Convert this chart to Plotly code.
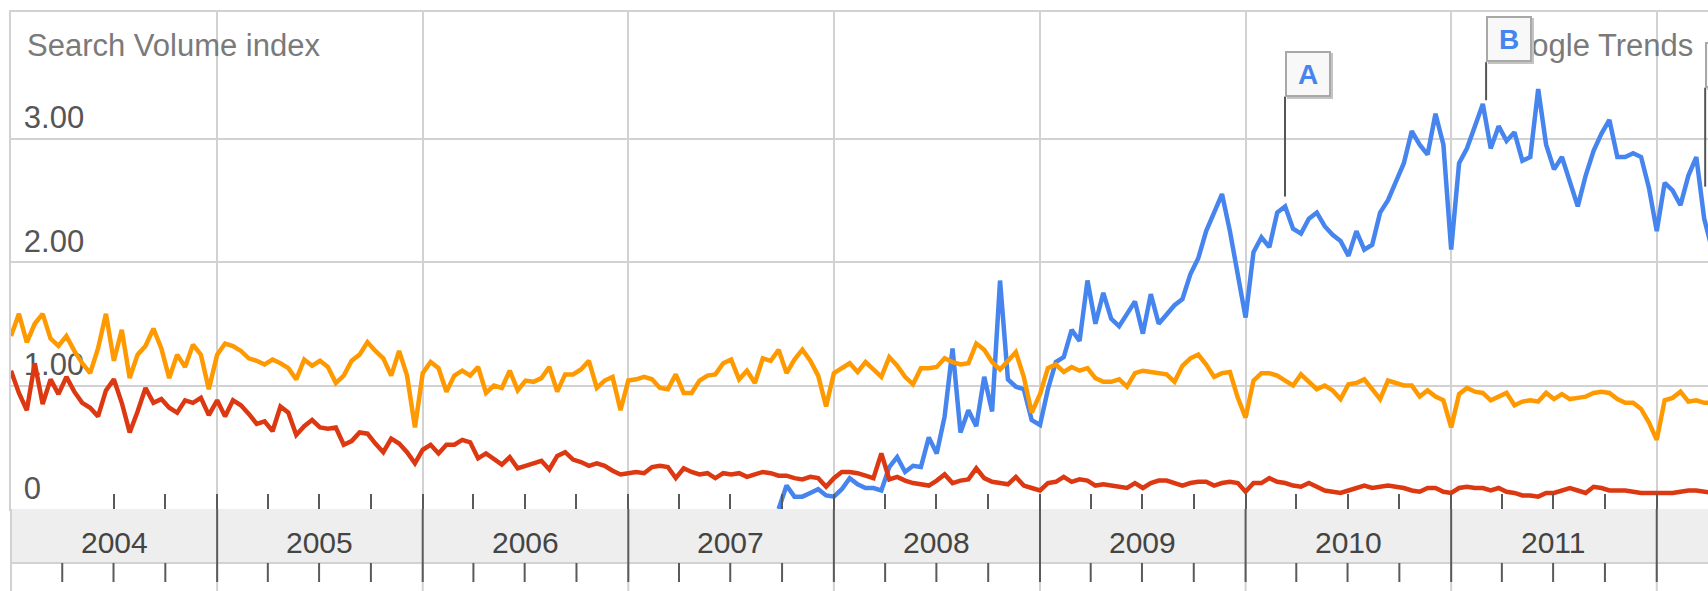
import pandas as pd
import plotly.graph_objects as go

# ------------------------------------------------------------------ data
year_labels = ["2004", "2005", "2006", "2007", "2008", "2009", "2010", "2011"]
samples_per_year = 26          # two-week sampling

# series values (search volume index)
orange_values = [
    1.40, 1.58, 1.35, 1.50, 1.58, 1.38, 1.32, 1.40, 1.28, 1.18, 1.10, 1.30, 1.58, 1.20, 1.45, 1.06, 1.25, 1.32, 1.46, 1.30, 1.06, 1.25, 1.15, 1.33, 1.25, 0.97,
    1.25, 1.34, 1.32, 1.28, 1.22, 1.20, 1.17, 1.21, 1.18, 1.14, 1.05, 1.21, 1.16, 1.20, 1.15, 1.02, 1.08, 1.20, 1.25, 1.35, 1.28, 1.22, 1.08, 1.28, 1.08, 0.66,
    1.10, 1.19, 1.14, 0.95, 1.08, 1.12, 1.08, 1.15, 0.94, 1.00, 0.98, 1.12, 0.96, 1.04, 1.03, 1.06, 1.15, 0.95, 1.09, 1.09, 1.13, 1.20, 0.98, 1.04, 1.07, 0.80,
    1.04, 1.05, 1.07, 1.05, 0.98, 0.97, 1.09, 0.94, 0.94, 1.04, 1.08, 1.09, 1.18, 1.21, 1.05, 1.12, 1.02, 1.22, 1.20, 1.29, 1.10, 1.21, 1.29, 1.20, 1.08, 0.83,
    1.10, 1.14, 1.18, 1.11, 1.19, 1.13, 1.07, 1.23, 1.16, 1.07, 1.01, 1.14, 1.14, 1.15, 1.22, 1.19, 1.17, 1.18, 1.34, 1.29, 1.19, 1.13, 1.20, 1.27, 1.07, 0.78,
    0.93, 1.14, 1.17, 1.11, 1.15, 1.12, 1.14, 1.06, 1.03, 1.03, 1.05, 0.99, 1.10, 1.12, 1.11, 1.10, 1.09, 1.03, 1.16, 1.22, 1.25, 1.17, 1.07, 1.10, 1.11, 0.90,
    0.74, 1.04, 1.10, 1.10, 1.08, 1.04, 1.00, 1.09, 1.03, 0.97, 1.00, 0.96, 0.89, 1.01, 1.02, 1.05, 0.97, 0.89, 1.04, 1.02, 1.00, 1.00, 0.91, 0.96, 0.91, 0.88,
    0.66, 0.93, 0.98, 0.95, 0.94, 0.88, 0.91, 0.94, 0.84, 0.87, 0.88, 0.87, 0.94, 0.89, 0.93, 0.89, 0.90, 0.91, 0.94, 0.95, 0.94, 0.89, 0.86, 0.86, 0.81, 0.70,
    0.56, 0.88, 0.90, 0.95, 0.87, 0.88, 0.86, 0.86,
]
red_values = [
    1.12, 0.94, 0.80, 1.18, 0.85, 1.05, 0.93, 1.07, 0.95, 0.86, 0.82, 0.75, 0.96, 1.05, 0.86, 0.62, 0.79, 0.98, 0.86, 0.89, 0.82, 0.78, 0.88, 0.86, 0.90, 0.76,
    0.88, 0.75, 0.88, 0.84, 0.77, 0.69, 0.71, 0.63, 0.83, 0.78, 0.60, 0.67, 0.72, 0.66, 0.65, 0.66, 0.52, 0.55, 0.62, 0.61, 0.53, 0.46, 0.57, 0.53, 0.46, 0.37,
    0.48, 0.52, 0.45, 0.52, 0.52, 0.56, 0.54, 0.41, 0.45, 0.40, 0.36, 0.42, 0.33, 0.35, 0.37, 0.39, 0.32, 0.43, 0.46, 0.40, 0.38, 0.35, 0.37, 0.35, 0.31, 0.28,
    0.29, 0.30, 0.29, 0.34, 0.35, 0.34, 0.25, 0.33, 0.30, 0.28, 0.29, 0.25, 0.29, 0.28, 0.29, 0.26, 0.28, 0.30, 0.29, 0.27, 0.27, 0.25, 0.24, 0.26, 0.25, 0.18,
    0.25, 0.30, 0.30, 0.29, 0.27, 0.25, 0.45, 0.24, 0.26, 0.23, 0.21, 0.20, 0.19, 0.23, 0.28, 0.21, 0.23, 0.24, 0.33, 0.25, 0.22, 0.21, 0.20, 0.26, 0.19, 0.17,
    0.15, 0.21, 0.22, 0.26, 0.22, 0.24, 0.23, 0.19, 0.20, 0.19, 0.18, 0.17, 0.21, 0.17, 0.21, 0.23, 0.23, 0.21, 0.19, 0.21, 0.22, 0.22, 0.19, 0.21, 0.22, 0.21,
    0.14, 0.21, 0.21, 0.25, 0.22, 0.21, 0.19, 0.18, 0.21, 0.18, 0.15, 0.14, 0.13, 0.15, 0.17, 0.19, 0.17, 0.18, 0.19, 0.18, 0.17, 0.15, 0.14, 0.17, 0.17, 0.14,
    0.13, 0.17, 0.18, 0.17, 0.17, 0.15, 0.17, 0.14, 0.13, 0.11, 0.11, 0.10, 0.13, 0.13, 0.15, 0.17, 0.15, 0.13, 0.18, 0.17, 0.15, 0.15, 0.15, 0.14, 0.13, 0.13,
    0.13, 0.13, 0.13, 0.14, 0.15, 0.15, 0.14, 0.13,
]
blue_start = (2007, 19)        # year, two-week slot where the blue series begins
blue_values = [
    0.00, 0.19, 0.10, 0.10, 0.13, 0.16, 0.11,
    0.10, 0.16, 0.25, 0.20, 0.17, 0.17, 0.15, 0.34, 0.42, 0.30, 0.35, 0.34, 0.58, 0.45, 0.75, 1.30, 0.62, 0.80, 0.67, 1.07, 0.79, 1.85, 1.05, 0.99, 0.97, 0.72,
    0.68, 0.97, 1.19, 1.23, 1.45, 1.36, 1.85, 1.50, 1.75, 1.54, 1.48, 1.58, 1.68, 1.42, 1.74, 1.50, 1.58, 1.65, 1.70, 1.90, 2.03, 2.25, 2.40, 2.55, 2.25, 1.88,
    1.55, 2.08, 2.20, 2.12, 2.40, 2.45, 2.27, 2.23, 2.35, 2.40, 2.29, 2.22, 2.17, 2.05, 2.25, 2.10, 2.14, 2.40, 2.50, 2.65, 2.80, 3.06, 2.95, 2.87, 3.20, 2.95,
    2.10, 2.80, 2.92, 3.10, 3.28, 2.92, 3.10, 2.98, 3.05, 2.82, 2.85, 3.40, 2.95, 2.75, 2.85, 2.65, 2.45, 2.70, 2.90, 3.04, 3.15, 2.85, 2.85, 2.88, 2.85, 2.60,
    2.25, 2.64, 2.58, 2.46, 2.70, 2.85, 2.35, 2.10,
]

flag_labels = ["A", "B", "C"]
flag_dates = ["2010-03-12", "2011-03-04", "2012-03-27"]
flag_values = [2.53, 3.31, 2.61]

y_tick_values = [0, 1, 2, 3]
y_tick_labels = ["0", "1.00", "2.00", "3.00"]


def sample_dates(start_year, start_slot, n):
    out, y, k = [], start_year, start_slot
    for _ in range(n):
        out.append(pd.Timestamp(year=y, month=1, day=1) + pd.Timedelta(days=k * 365.25 / samples_per_year))
        k += 1
        if k == samples_per_year:
            y, k = y + 1, 0
    return out


orange_dates = sample_dates(int(year_labels[0]), 0, len(orange_values))
red_dates = sample_dates(int(year_labels[0]), 0, len(red_values))
blue_dates = sample_dates(blue_start[0], blue_start[1], len(blue_values))

# ------------------------------------------------------------------ layout constants
W, H = 1708, 591
PLOT_L, PLOT_T, PLOT_B = 11, 12, 509
PX_PER_UNIT = 123.5
BAND_BOTTOM, LOW_TICK_END = 563, 582
PLOT_H = PLOT_B - PLOT_T


def py(ypx):
    """pixel row -> paper y"""
    return (PLOT_B - ypx) / PLOT_H


FONT = "Liberation Sans, Arial, Helvetica, sans-serif"
GRID = "#d2d2d2"
DARK = "#5a5a5a"

BLUE, RED, ORANGE = "#4684ee", "#dc3912", "#ff9900"

fig = go.Figure()
for dates, vals, col in [(blue_dates, blue_values, BLUE),
                         (red_dates, red_values, RED),
                         (orange_dates, orange_values, ORANGE)]:
    fig.add_trace(go.Scatter(x=dates, y=vals, mode="lines",
                             line=dict(color=col, width=4.5),
                             hoverinfo="skip", showlegend=False))

fig.update_layout(
    width=W, height=H,
    margin=dict(l=PLOT_L, r=0, t=PLOT_T, b=H - PLOT_B, pad=0),
    paper_bgcolor="white", plot_bgcolor="white",
    showlegend=False, font=dict(family=FONT),
    hovermode=False,
)
fig.update_xaxes(
    type="date", range=["2004-01-01", "2012-04-01"],
    tickmode="linear", tick0="2004-01-01", dtick="M12",
    showticklabels=False,
    ticks="inside", ticklen=15, tickwidth=2, tickcolor=DARK,
    minor=dict(dtick="M3", tick0="2004-01-01", ticks="inside", ticklen=15,
               tickwidth=2, tickcolor=DARK, showgrid=False),
    showgrid=True, gridcolor=GRID, gridwidth=2,
    showline=True, linecolor=GRID, linewidth=2, mirror=True,
    zeroline=False, fixedrange=True,
)
fig.update_yaxes(
    range=[0, PLOT_H / PX_PER_UNIT],
    tickmode="array", tickvals=y_tick_values, ticktext=y_tick_labels,
    ticks="", ticklabelposition="inside", ticklabelshift=-21, ticklabelstandoff=16,
    tickfont=dict(size=31, color="#555555", family=FONT),
    showgrid=True, gridcolor=GRID, gridwidth=2,
    showline=True, linecolor=GRID, linewidth=2,
    zeroline=False, layer="below traces", fixedrange=True,
)

shapes = []
# grey date band under the plot
shapes.append(dict(type="rect", xref="paper", yref="paper", x0=0, x1=1,
                   y0=py(BAND_BOTTOM), y1=0, fillcolor="#eeeeee",
                   line=dict(width=0), layer="above"))
shapes.append(dict(type="line", xref="paper", yref="paper", x0=0, x1=1,
                   y0=py(BAND_BOTTOM), y1=py(BAND_BOTTOM),
                   line=dict(color=GRID, width=2), layer="above"))
shapes.append(dict(type="line", xref="paper", yref="paper", x0=0, x1=0,
                   y0=py(H), y1=0, line=dict(color=GRID, width=2), layer="above"))
year_starts = pd.date_range("2005-01-01", "2012-01-01", freq="YS")
quarter_starts = pd.date_range("2004-04-01", "2012-01-01", freq="QS")
for d in year_starts:
    shapes.append(dict(type="line", xref="x", yref="paper", x0=d, x1=d,
                       y0=py(H), y1=py(BAND_BOTTOM), line=dict(color=GRID, width=2), layer="above"))
    shapes.append(dict(type="line", xref="x", yref="paper", x0=d, x1=d,
                       y0=py(BAND_BOTTOM), y1=0, line=dict(color=DARK, width=2), layer="above"))
for d in quarter_starts:
    shapes.append(dict(type="line", xref="x", yref="paper", x0=d, x1=d,
                       y0=py(LOW_TICK_END), y1=py(BAND_BOTTOM),
                       line=dict(color=DARK, width=2), layer="above"))

annotations = []
for yl in year_labels:
    annotations.append(dict(x=pd.Timestamp(int(yl), 7, 2), y=0, xref="x", yref="paper",
                            yanchor="middle", xanchor="center", yshift=-(542 - PLOT_B),
                            text=yl, showarrow=False,
                            font=dict(size=30, color="#444444", family=FONT)))
annotations.append(dict(x=0, y=1, xref="paper", yref="paper", xanchor="left", yanchor="middle",
                        xshift=14, yshift=-(45 - PLOT_T), text="Search Volume index",
                        showarrow=False, font=dict(size=31, color="#7a7a7a", family=FONT)))
annotations.append(dict(x=1, y=1, xref="paper", yref="paper", xanchor="right", yanchor="middle",
                        xshift=-(W - 1695), yshift=-(45 - PLOT_T), text="Google Trends",
                        showarrow=False, font=dict(size=31, color="#7a7a7a", family=FONT)))

pole_len = [100, 38, 99]
for lab, d, v, plen in zip(flag_labels, flag_dates, flag_values, pole_len):
    shapes.append(dict(type="line", xref="x", yref="y", x0=d, x1=d,
                       ysizemode="pixel", yanchor=v, y0=0, y1=plen,
                       line=dict(color="#555555", width=2), layer="above"))
    # drop shadow
    annotations.append(dict(x=d, y=v, xref="x", yref="y", xanchor="left", yanchor="bottom",
                            xshift=2, yshift=plen - 2, text=" ", showarrow=False,
                            width=40, height=40, borderpad=1, borderwidth=2,
                            bgcolor="#c4c4c4", bordercolor="#c4c4c4",
                            font=dict(size=28)))
    annotations.append(dict(x=d, y=v, xref="x", yref="y", xanchor="left", yanchor="bottom",
                            yshift=plen, text="<b>%s</b>" % lab, showarrow=False,
                            width=40, height=40, borderpad=1, borderwidth=2,
                            bgcolor="#f8f8f8", bordercolor="#a8a8a8",
                            align="center", valign="middle",
                            font=dict(size=28, color=BLUE, family=FONT)))

fig.update_layout(shapes=shapes, annotations=annotations)
fig.write_html(
    "out.html",
    config={"displayModeBar": False},
    post_script="document.body.style.margin='0';document.body.style.overflow='hidden';",
)
